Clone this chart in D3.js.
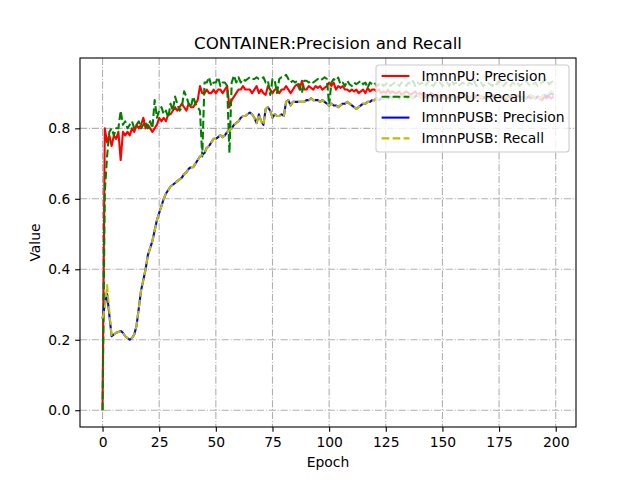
<!DOCTYPE html>
<html>
<head>
<meta charset="utf-8">
<script src="https://cdn.jsdelivr.net/npm/d3@7.9.0/dist/d3.min.js"></script>
<style>
  html, body { margin: 0; padding: 0; background: #fff; }
  text { font-family: "DejaVu Sans", sans-serif; }
</style>
</head>
<body>
<div id="chart"></div>
<script>
// values, one per epoch (0..199)
const precisionPU = [
  0.00, 0.80, 0.76, 0.78, 0.75, 0.78, 0.77, 0.79, 0.71, 0.79,
  0.78, 0.79, 0.78, 0.80, 0.79, 0.81, 0.80, 0.81, 0.83, 0.80,
  0.81, 0.80, 0.79, 0.80, 0.81, 0.83, 0.82, 0.83, 0.82, 0.84,
  0.84, 0.85, 0.86, 0.85, 0.86, 0.87, 0.86, 0.85, 0.87, 0.86,
  0.86, 0.87, 0.88, 0.92, 0.90, 0.90, 0.91, 0.90, 0.90, 0.91,
  0.90, 0.91, 0.91, 0.90, 0.91, 0.92, 0.86, 0.88, 0.89, 0.90,
  0.91, 0.91, 0.92, 0.91, 0.91, 0.91, 0.90, 0.91, 0.92, 0.90,
  0.91, 0.90, 0.895, 0.92, 0.91, 0.90, 0.91, 0.91, 0.90, 0.91,
  0.91, 0.92, 0.91, 0.90, 0.91, 0.92, 0.925, 0.91, 0.935, 0.91,
  0.91, 0.92, 0.915, 0.91, 0.92, 0.915, 0.92, 0.91, 0.915, 0.92,
  0.93, 0.92, 0.93, 0.91, 0.92, 0.915, 0.92, 0.91, 0.91, 0.905,
  0.91, 0.905, 0.91, 0.90, 0.905, 0.91, 0.90, 0.915, 0.905, 0.91,
  0.91, 0.905, 0.91, 0.90, 0.905, 0.90, 0.91, 0.90, 0.905, 0.90,
  0.90, 0.905, 0.895, 0.90, 0.905, 0.90, 0.895, 0.90, 0.905, 0.895,
  0.90, 0.895, 0.90, 0.89, 0.895, 0.90, 0.895, 0.89, 0.895, 0.89,
  0.895, 0.89, 0.885, 0.89, 0.895, 0.89, 0.885, 0.89, 0.885, 0.89,
  0.895, 0.89, 0.885, 0.89, 0.885, 0.89, 0.895, 0.885, 0.89, 0.885,
  0.89, 0.885, 0.89, 0.895, 0.885, 0.89, 0.885, 0.89, 0.88, 0.89,
  0.885, 0.89, 0.885, 0.895, 0.89, 0.885, 0.89, 0.885, 0.89, 0.885,
  0.89, 0.885, 0.89, 0.885, 0.88, 0.89, 0.885, 0.89, 0.885, 0.89
];

const recallPU = [
  0.00, 0.62, 0.72, 0.79, 0.80, 0.78, 0.80, 0.80, 0.85, 0.81,
  0.82, 0.80, 0.81, 0.82, 0.80, 0.81, 0.82, 0.80, 0.81, 0.82,
  0.80, 0.82, 0.80, 0.88, 0.83, 0.85, 0.86, 0.84, 0.85, 0.83,
  0.87, 0.85, 0.89, 0.87, 0.85, 0.86, 0.905, 0.89, 0.87, 0.86,
  0.89, 0.87, 0.86, 0.85, 0.72, 0.93, 0.93, 0.945, 0.92, 0.93,
  0.93, 0.945, 0.92, 0.93, 0.93, 0.92, 0.73, 0.93, 0.95, 0.93,
  0.945, 0.93, 0.94, 0.935, 0.94, 0.945, 0.94, 0.94, 0.945, 0.94,
  0.94, 0.945, 0.93, 0.935, 0.895, 0.94, 0.935, 0.90, 0.94, 0.945,
  0.945, 0.952, 0.94, 0.93, 0.935, 0.93, 0.935, 0.92, 0.90, 0.935,
  0.935, 0.93, 0.935, 0.93, 0.935, 0.94, 0.935, 0.94, 0.945, 0.94,
  0.865, 0.93, 0.94, 0.935, 0.944, 0.925, 0.93, 0.92, 0.935, 0.925,
  0.92, 0.93, 0.925, 0.93, 0.935, 0.925, 0.93, 0.915, 0.93, 0.925,
  0.93, 0.92, 0.925, 0.93, 0.92, 0.925, 0.93, 0.92, 0.925, 0.93,
  0.925, 0.92, 0.93, 0.925, 0.92, 0.93, 0.925, 0.935, 0.92, 0.93,
  0.925, 0.93, 0.92, 0.925, 0.935, 0.925, 0.92, 0.93, 0.925, 0.93,
  0.92, 0.925, 0.93, 0.92, 0.935, 0.925, 0.93, 0.92, 0.925, 0.93,
  0.925, 0.92, 0.93, 0.925, 0.935, 0.92, 0.925, 0.93, 0.92, 0.925,
  0.93, 0.925, 0.92, 0.93, 0.925, 0.935, 0.925, 0.92, 0.93, 0.925,
  0.92, 0.93, 0.925, 0.93, 0.92, 0.925, 0.93, 0.935, 0.925, 0.92,
  0.925, 0.93, 0.92, 0.925, 0.93, 0.935, 0.94, 0.925, 0.93, 0.935
];

const precisionPUSB = [
  0.26, 0.30, 0.33, 0.27, 0.21, 0.215, 0.22, 0.222, 0.225, 0.22,
  0.21, 0.205, 0.20, 0.205, 0.215, 0.24, 0.29, 0.34, 0.37, 0.40,
  0.44, 0.46, 0.48, 0.51, 0.54, 0.56, 0.58, 0.60, 0.615, 0.625,
  0.635, 0.64, 0.645, 0.65, 0.655, 0.66, 0.67, 0.675, 0.685, 0.69,
  0.69, 0.70, 0.71, 0.72, 0.725, 0.73, 0.745, 0.75, 0.76, 0.77,
  0.77, 0.775, 0.78, 0.775, 0.78, 0.79, 0.795, 0.80, 0.81, 0.815,
  0.82, 0.83, 0.835, 0.835, 0.84, 0.845, 0.84, 0.83, 0.815, 0.84,
  0.82, 0.81, 0.855, 0.86, 0.85, 0.83, 0.84, 0.835, 0.835, 0.84,
  0.835, 0.875, 0.88, 0.865, 0.875, 0.875, 0.875, 0.875, 0.875, 0.875,
  0.88, 0.88, 0.885, 0.88, 0.88, 0.88, 0.875, 0.88, 0.875, 0.87,
  0.865, 0.87, 0.865, 0.865, 0.86, 0.865, 0.87, 0.87, 0.875, 0.87,
  0.865, 0.86, 0.855, 0.86, 0.865, 0.87, 0.87, 0.875, 0.875, 0.88,
  0.88, 0.885, 0.88, 0.885, 0.885, 0.89, 0.885, 0.89, 0.885, 0.89,
  0.89, 0.885, 0.89, 0.895, 0.89, 0.885, 0.89, 0.885, 0.89, 0.895,
  0.89, 0.885, 0.89, 0.885, 0.89, 0.895, 0.89, 0.885, 0.89, 0.885,
  0.89, 0.885, 0.89, 0.895, 0.885, 0.89, 0.885, 0.89, 0.895, 0.89,
  0.885, 0.89, 0.885, 0.89, 0.895, 0.89, 0.885, 0.89, 0.885, 0.89,
  0.89, 0.885, 0.89, 0.885, 0.89, 0.895, 0.89, 0.885, 0.89, 0.885,
  0.89, 0.885, 0.89, 0.895, 0.89, 0.885, 0.89, 0.885, 0.89, 0.895,
  0.89, 0.885, 0.89, 0.885, 0.89, 0.895, 0.89, 0.895, 0.90, 0.895
];

const recallPUSB = [
  0.26, 0.29, 0.355, 0.28, 0.21, 0.215, 0.22, 0.222, 0.225, 0.22,
  0.21, 0.205, 0.20, 0.205, 0.215, 0.24, 0.29, 0.34, 0.37, 0.40,
  0.44, 0.46, 0.48, 0.51, 0.54, 0.56, 0.58, 0.60, 0.615, 0.625,
  0.635, 0.64, 0.645, 0.65, 0.655, 0.66, 0.67, 0.675, 0.685, 0.69,
  0.69, 0.70, 0.71, 0.72, 0.725, 0.73, 0.745, 0.75, 0.76, 0.77,
  0.77, 0.775, 0.78, 0.775, 0.78, 0.79, 0.795, 0.80, 0.81, 0.815,
  0.82, 0.83, 0.835, 0.835, 0.84, 0.845, 0.84, 0.83, 0.815, 0.84,
  0.82, 0.81, 0.855, 0.86, 0.85, 0.83, 0.84, 0.835, 0.835, 0.84,
  0.835, 0.875, 0.88, 0.865, 0.875, 0.875, 0.875, 0.875, 0.875, 0.875,
  0.88, 0.88, 0.885, 0.88, 0.88, 0.88, 0.875, 0.88, 0.875, 0.87,
  0.865, 0.87, 0.865, 0.865, 0.86, 0.865, 0.87, 0.87, 0.875, 0.87,
  0.865, 0.86, 0.855, 0.86, 0.865, 0.87, 0.87, 0.875, 0.875, 0.88,
  0.88, 0.885, 0.88, 0.885, 0.885, 0.89, 0.885, 0.89, 0.885, 0.89,
  0.89, 0.885, 0.89, 0.895, 0.89, 0.885, 0.89, 0.885, 0.89, 0.895,
  0.89, 0.885, 0.89, 0.885, 0.89, 0.895, 0.89, 0.885, 0.89, 0.885,
  0.89, 0.885, 0.89, 0.895, 0.885, 0.89, 0.885, 0.89, 0.895, 0.89,
  0.885, 0.89, 0.885, 0.89, 0.895, 0.89, 0.885, 0.89, 0.885, 0.89,
  0.89, 0.885, 0.89, 0.885, 0.89, 0.895, 0.89, 0.885, 0.89, 0.885,
  0.89, 0.885, 0.89, 0.895, 0.89, 0.885, 0.89, 0.885, 0.89, 0.895,
  0.89, 0.885, 0.89, 0.885, 0.89, 0.895, 0.895, 0.90, 0.905, 0.90
];

const xTicks = [0, 25, 50, 75, 100, 125, 150, 175, 200];
const yTicks = [0.0, 0.2, 0.4, 0.6, 0.8];

const series = [
  { name: 'ImnnPU: Precision', values: precisionPU, color: '#ff0000', dash: null },
  { name: 'ImnnPU: Recall', values: recallPU, color: '#008000', dash: '7.7,3.3' },
  { name: 'ImnnPUSB: Precision', values: precisionPUSB, color: '#0000ff', dash: null },
  { name: 'ImnnPUSB: Recall', values: recallPUSB, color: '#bfbf00', dash: '7.7,3.3' }
];

const width = 640;
const height = 480;
const margin = { top: 58, right: 64, bottom: 53, left: 80 };
const fs = 13.89;

const usableArea = {
  top: margin.top,
  right: width - margin.right,
  bottom: height - margin.bottom,
  left: margin.left
};

const svg = d3.select('#chart')
  .append('svg')
  .attr('width', width)
  .attr('height', height);

svg.append('rect').attr('width', width).attr('height', height).attr('fill', '#fff');

// matplotlib-style 5% padding around the data
const nEp = precisionPU.length - 1;
const allVals = series.flatMap(s => s.values);
const [yMin, yMax] = d3.extent(allVals);
const xPad = nEp * 0.05;
const yPad = (yMax - yMin) * 0.05;

const xScale = d3.scaleLinear()
  .domain([-xPad, nEp + xPad])
  .range([usableArea.left, usableArea.right]);

const yScale = d3.scaleLinear()
  .domain([yMin - yPad, yMax + yPad])
  .range([usableArea.bottom, usableArea.top]);

// grid
const grid = svg.append('g')
  .attr('stroke', '#b0b0b0')
  .attr('stroke-width', 1.1)
  .attr('stroke-dasharray', '7.1,1.8,1.1,1.8');

grid.selectAll('.gx')
  .data(xTicks)
  .join('line')
  .attr('x1', d => xScale(d)).attr('x2', d => xScale(d))
  .attr('y1', usableArea.top).attr('y2', usableArea.bottom);

grid.selectAll('.gy')
  .data(yTicks)
  .join('line')
  .attr('y1', d => yScale(d)).attr('y2', d => yScale(d))
  .attr('x1', usableArea.left).attr('x2', usableArea.right);

// lines
const line = d3.line()
  .x((d, i) => xScale(i))
  .y(d => yScale(d));

svg.append('g')
  .selectAll('path')
  .data(series)
  .join('path')
  .attr('d', d => line(d.values))
  .attr('fill', 'none')
  .attr('stroke', d => d.color)
  .attr('stroke-width', 2.08)
  .attr('stroke-linejoin', 'round')
  .attr('stroke-dasharray', d => d.dash);

// axes
const xAxis = d3.axisBottom(xScale)
  .tickValues(xTicks)
  .tickSize(4.86)
  .tickPadding(4.86)
  .tickFormat(d3.format('d'));

const yAxis = d3.axisLeft(yScale)
  .tickValues(yTicks)
  .tickSize(4.86)
  .tickPadding(4.86)
  .tickFormat(d3.format('.1f'));

const gx = svg.append('g')
  .attr('transform', `translate(0, ${usableArea.bottom})`)
  .call(xAxis);

const gy = svg.append('g')
  .attr('transform', `translate(${usableArea.left}, 0)`)
  .call(yAxis);

for (const g of [gx, gy]) {
  g.select('.domain').remove();
  g.selectAll('line').attr('stroke', '#000').attr('stroke-width', 1.1);
  g.selectAll('text')
    .attr('fill', '#000')
    .style('font-family', '"DejaVu Sans", sans-serif')
    .style('font-size', fs + 'px');
}

// spines
svg.append('rect')
  .attr('x', usableArea.left)
  .attr('y', usableArea.top)
  .attr('width', usableArea.right - usableArea.left)
  .attr('height', usableArea.bottom - usableArea.top)
  .attr('fill', 'none')
  .attr('stroke', '#000')
  .attr('stroke-width', 1.1);

// title and labels
svg.append('text')
  .attr('x', (usableArea.left + usableArea.right) / 2)
  .attr('y', 49)
  .attr('text-anchor', 'middle')
  .style('font-size', '16.67px')
  .text('CONTAINER:Precision and Recall');

svg.append('text')
  .attr('x', (usableArea.left + usableArea.right) / 2)
  .attr('y', 467)
  .attr('text-anchor', 'middle')
  .style('font-size', fs + 'px')
  .text('Epoch');

svg.append('text')
  .attr('transform', `translate(40, ${(usableArea.top + usableArea.bottom) / 2}) rotate(-90)`)
  .attr('text-anchor', 'middle')
  .style('font-size', fs + 'px')
  .text('Value');

// legend
const legend = svg.append('g').attr('transform', 'translate(376, 65)');

legend.append('rect')
  .attr('width', 193)
  .attr('height', 87)
  .attr('rx', 3)
  .attr('fill', '#fff')
  .attr('fill-opacity', 0.8)
  .attr('stroke', '#cccccc')
  .attr('stroke-width', 1.1);

const entry = legend.selectAll('.entry')
  .data(series)
  .join('g')
  .attr('transform', (d, i) => `translate(0, ${11 + i * 20.8})`);

entry.append('line')
  .attr('x1', 5.6).attr('x2', 33.4)
  .attr('stroke', d => d.color)
  .attr('stroke-width', 2.08)
  .attr('stroke-dasharray', d => d.dash);

entry.append('text')
  .attr('x', 45.5)
  .attr('dy', '0.35em')
  .style('font-size', fs + 'px')
  .text(d => d.name);
</script>
</body>
</html>
